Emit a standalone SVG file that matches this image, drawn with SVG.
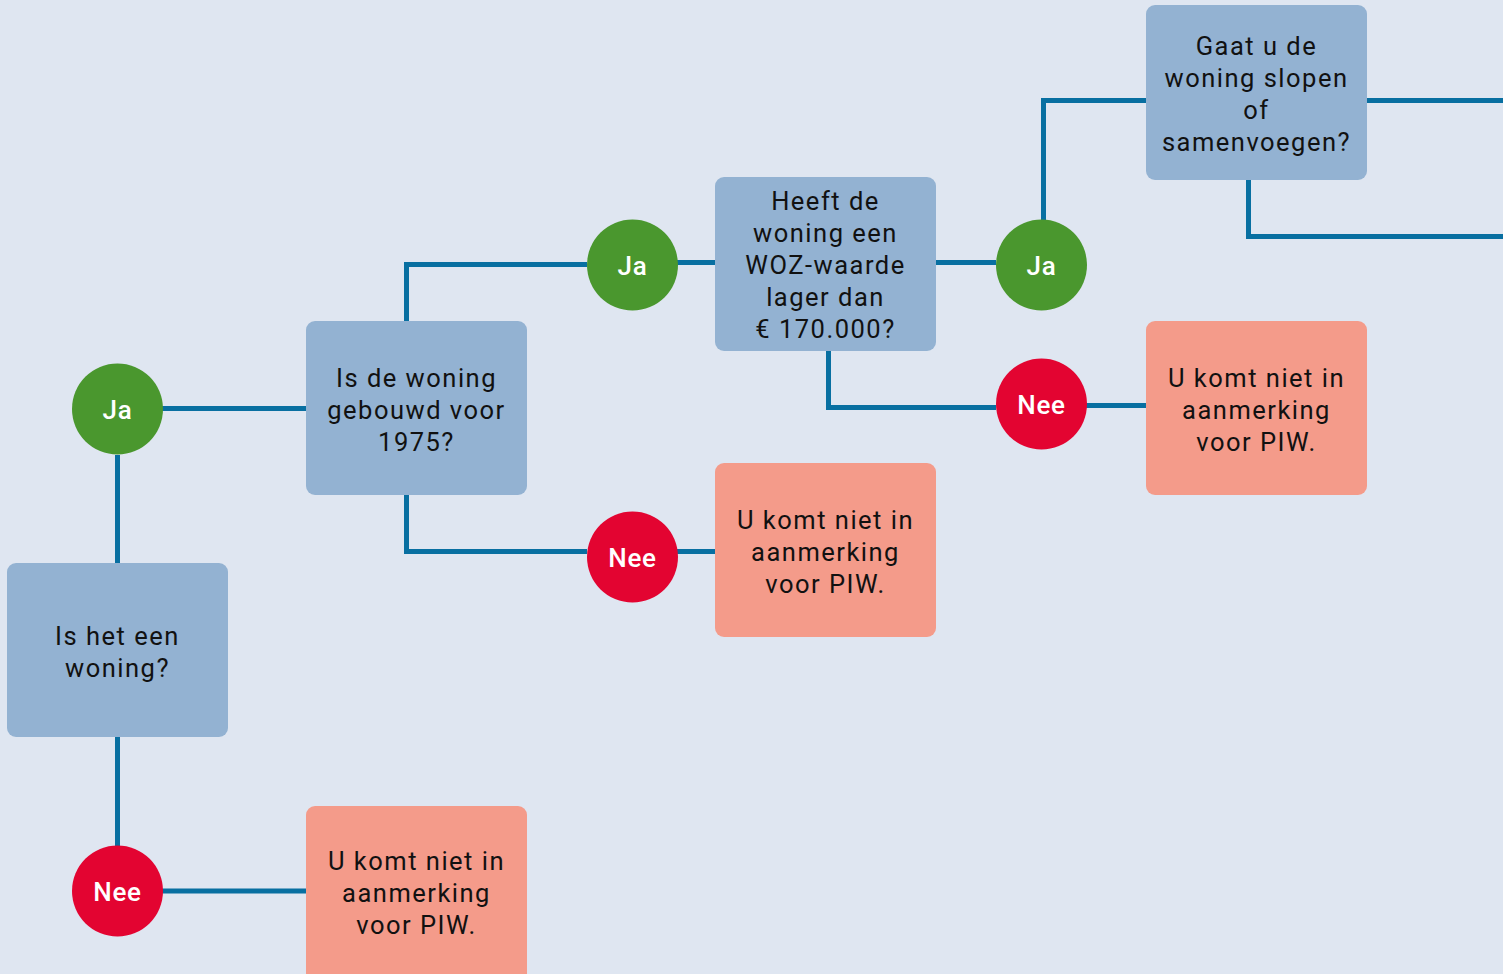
<svg xmlns="http://www.w3.org/2000/svg" width="1503" height="974" viewBox="0 0 1503 974">
<style>
.bg{fill:#dfe6f1}
.q{fill:#93b2d2}
.r{fill:#f49b8a}
.ja{fill:#4a972e}
.nee{fill:#e30431}
.c{fill:none;stroke:#086fa1;stroke-width:5}
.t{font-family:Roboto,"Liberation Sans",sans-serif;font-size:25.5px;letter-spacing:1.5px;fill:#111;text-anchor:middle}
.l{font-family:Roboto,"Liberation Sans",sans-serif;font-size:26px;font-weight:500;letter-spacing:0.8px;fill:#fff;text-anchor:middle}
</style>
<rect class="bg" x="0" y="0" width="1503" height="974"/>
<g id="connectors">
<path class="c" d="M117.5 563 V455"/>
<path class="c" d="M162 408.5 H306"/>
<path class="c" d="M117.5 737 V846"/>
<path class="c" d="M162 891 H306"/>
<path class="c" d="M406.5 321 V264.5 H587"/>
<path class="c" d="M677 262.5 H715"/>
<path class="c" d="M406.5 495 V551.5 H587"/>
<path class="c" d="M677 551.5 H715"/>
<path class="c" d="M936 262.5 H996"/>
<path class="c" d="M1043.5 220 V100.5 H1146"/>
<path class="c" d="M828.5 351 V407.5 H996"/>
<path class="c" d="M1086 405.5 H1146"/>
<path class="c" d="M1367 100.5 H1503"/>
<path class="c" d="M1248.5 180 V236.5 H1503"/>
</g>
<g id="q1"><rect class="q" x="7" y="563" width="221" height="174" rx="9"/>
<text class="t" x="117.5" y="645">Is het een</text><text class="t" x="117.5" y="677">woning?</text></g>
<g id="ja1"><circle class="ja" cx="117.5" cy="409" r="45.5"/><text class="l" x="117.5" y="418.5">Ja</text></g>
<g id="nee1"><circle class="nee" cx="117.5" cy="891" r="45.5"/><text class="l" x="117.5" y="901">Nee</text></g>
<g id="r1"><rect class="r" x="306" y="806" width="221" height="180" rx="9"/>
<text class="t" x="416.5" y="870">U komt niet in</text><text class="t" x="416.5" y="902">aanmerking</text><text class="t" x="416.5" y="934">voor PIW.</text></g>
<g id="q2"><rect class="q" x="306" y="321" width="221" height="174" rx="9"/>
<text class="t" x="416.5" y="387">Is de woning</text><text class="t" x="416.5" y="419">gebouwd voor</text><text class="t" x="416.5" y="451">1975?</text></g>
<g id="ja2"><circle class="ja" cx="632.5" cy="265" r="45.5"/><text class="l" x="632.5" y="274.5">Ja</text></g>
<g id="nee2"><circle class="nee" cx="632.5" cy="557" r="45.5"/><text class="l" x="632.5" y="567">Nee</text></g>
<g id="r2"><rect class="r" x="715" y="463" width="221" height="174" rx="9"/>
<text class="t" x="825.5" y="529">U komt niet in</text><text class="t" x="825.5" y="561">aanmerking</text><text class="t" x="825.5" y="593">voor PIW.</text></g>
<g id="q3"><rect class="q" x="715" y="177" width="221" height="174" rx="9"/>
<text class="t" x="825.5" y="210">Heeft de</text><text class="t" x="825.5" y="242">woning een</text><text class="t" x="825.5" y="274">WOZ-waarde</text><text class="t" x="825.5" y="306">lager dan</text><text class="t" x="825.5" y="338">€ 170.000?</text></g>
<g id="ja3"><circle class="ja" cx="1041.5" cy="265" r="45.5"/><text class="l" x="1041.5" y="274.5">Ja</text></g>
<g id="nee3"><circle class="nee" cx="1041.5" cy="404" r="45.5"/><text class="l" x="1041.5" y="414">Nee</text></g>
<g id="r3"><rect class="r" x="1146" y="321" width="221" height="174" rx="9"/>
<text class="t" x="1256.5" y="387">U komt niet in</text><text class="t" x="1256.5" y="419">aanmerking</text><text class="t" x="1256.5" y="451">voor PIW.</text></g>
<g id="q4"><rect class="q" x="1146" y="5" width="221" height="175" rx="9"/>
<text class="t" x="1256.5" y="55">Gaat u de</text><text class="t" x="1256.5" y="87">woning slopen</text><text class="t" x="1256.5" y="119">of</text><text class="t" x="1256.5" y="151">samenvoegen?</text></g>
</svg>
